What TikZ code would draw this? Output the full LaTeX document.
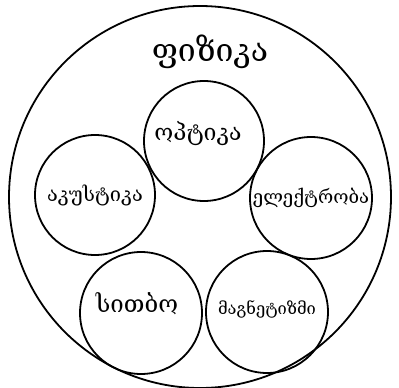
\documentclass[tikz,border=0pt]{standalone}
\usepackage{fontspec}
\newfontfamily\geo{DejaVu Serif}
\begin{document}
\begin{tikzpicture}[x=1pt,y=-1pt,
  ring/.style={draw,line width=1.8pt},
  lbl/.style={font=\geo, inner sep=0pt}]
\useasboundingbox (0,0) rectangle (399,388);
\draw[ring] (200,197) circle (191);
\node[ring,circle,minimum size=120pt,inner sep=0pt] (opt) at (204,141) {};
\node[ring,circle,minimum size=120pt,inner sep=0pt] (aku) at (95,195) {};
\node[ring,circle,minimum size=122pt,inner sep=0pt] (ele) at (311,198) {};
\node[ring,circle,minimum size=122pt,inner sep=0pt] (sit) at (141,313) {};
\node[ring,circle,minimum size=122pt,inner sep=0pt] (mag) at (267,312) {};
\node[lbl,font=\geo\fontsize{32}{38}\selectfont] (fiz) at (210,52) {ფიზიკა};
\node[lbl,font=\geo\fontsize{23}{27}\selectfont] at (opt) [xshift=-6pt,yshift=7pt] {ოპტიკა};
\node[lbl,font=\geo\fontsize{20}{24}\selectfont] at (aku) [yshift=0pt] {აკუსტიკა};
\node[lbl,font=\geo\fontsize{18.5}{22}\selectfont] at (ele) [yshift=0pt] {ელექტრობა};
\node[lbl,font=\geo\fontsize{24}{28}\selectfont] at (sit) [xshift=-4pt,yshift=9pt] {სითბო};
\node[lbl,font=\geo\fontsize{16.5}{20}\selectfont] at (mag) [yshift=3pt] {მაგნეტიზმი};
\end{tikzpicture}
\end{document}
